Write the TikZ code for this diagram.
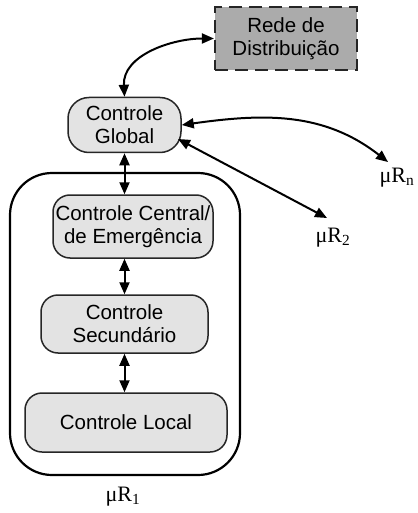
\documentclass[tikz,border=0pt]{standalone}
\usepackage{fontspec}
\setmainfont{Liberation Sans}
\newfontfamily\labelfont{Liberation Serif}
\usetikzlibrary{arrows.meta}
\definecolor{boxgray}{HTML}{E3E3E3}
\definecolor{netgray}{HTML}{ABABAB}
\begin{document}
\begin{tikzpicture}[x=1pt,y=-1pt,
  ctrl/.style={draw=black!85,line width=1.5pt,fill=boxgray,rounded corners=17pt,
    inner sep=0pt,align=center,font=\fontsize{20.5}{23}\selectfont},
  net/.style={draw=black!85,line width=2.2pt,dash pattern=on 13pt off 7pt,fill=netgray,
    inner sep=0pt,align=center,font=\fontsize{20.5}{23}\selectfont},
  link/.style={line width=2pt,{Triangle[length=12pt,width=10pt]}-{Triangle[length=12pt,width=10pt]}},
  mulabel/.style={font=\labelfont\fontsize{22}{24}\selectfont}]
\useasboundingbox (0,0) rectangle (417,513);
% micro-grid boundary
\draw[line width=2.2pt,rounded corners=42pt] (10,173) rectangle (240,475);
% control levels
\node[ctrl,rounded corners=21pt,minimum width=113pt,minimum height=55pt] (glob) at (124.5,125) {Controle\\Global};
\node[ctrl,minimum width=160pt,minimum height=63pt] (cent) at (133,226.5) {Controle Central/\\de Emergência};
\node[ctrl,minimum width=167pt,minimum height=58pt] (sec) at (124.5,324) {Controle\\Secundário};
\node[ctrl,minimum width=202pt,minimum height=59pt] (loc) at (126,422.5) {Controle Local};
% distribution network
\node[net,minimum width=142pt,minimum height=63pt] (rede) at (286,38.5) {Rede de\\Distribuição};
% other micro-grids
\node[mulabel] (mun) at (397,178) {μR\textsubscript{n}};
\node[mulabel] (mu2) at (333,238) {μR\textsubscript{2}};
\node[mulabel] (mu1) at (123,497) {μR\textsubscript{1}};
\coordinate (endn) at (388,162);
\coordinate (end2) at (327,218);
\coordinate (gse) at (178,139);
% connections
\draw[link] (glob.north) to[out=93,in=180] (rede.west);
\draw[link] (glob.east) to[out=8,in=142] (endn);
\draw[link] (gse) -- (end2);
\draw[link] (glob.south) -- (cent.north -| glob.south);
\draw[link] (cent.south -| glob.south) -- (sec.north -| glob.south);
\draw[link] (sec.south -| glob.south) -- (loc.north -| glob.south);
\end{tikzpicture}
\end{document}
